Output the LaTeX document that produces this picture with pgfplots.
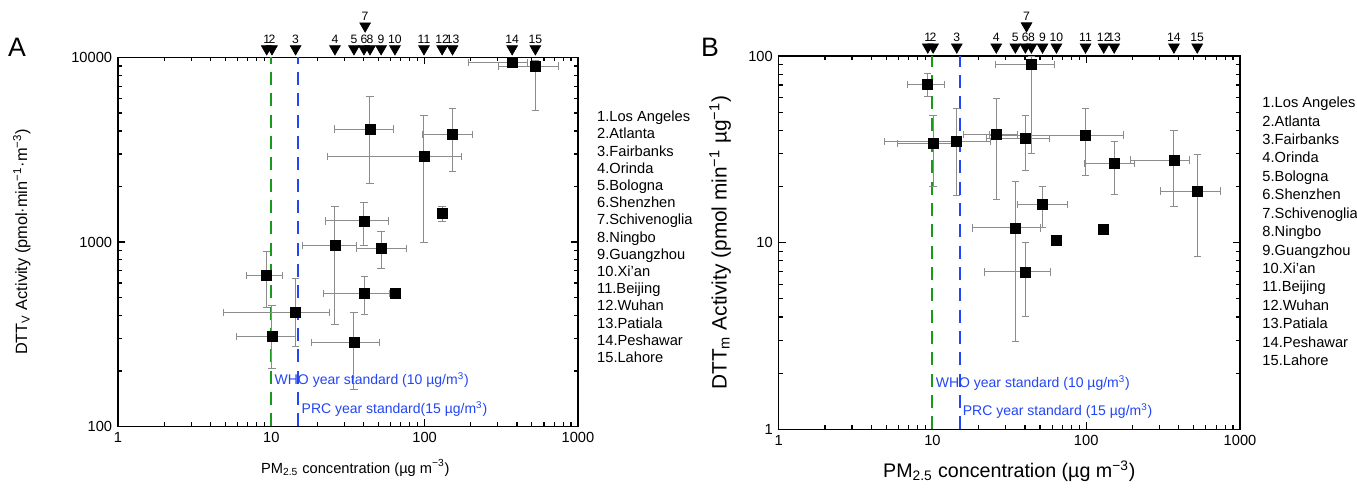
\documentclass[border=0pt]{standalone}
\usepackage{pgfplots}
\pgfplotsset{compat=1.18}
\usepackage{pgfplotstable}
\usepackage{fontspec}
\setmainfont{Liberation Sans}
\definecolor{whogreen}{HTML}{1A9A1A}
\definecolor{prcblue}{HTML}{2245F5}

% x, y, x error minus/plus, y error minus/plus
\pgfplotstableread{
x    y     xm    xp    ym    yp
9.33 656   2.49  2.57  215   227
10.1 307   4.15  4.3   100   148
14.4 416   9.49  9.5   144   219
26   955   10.1  10    597   612
34.6 286   16.4  16    127   130
40.2 1300  17.7  17.8  340   333
40.4 527   18.6  18.6  121   122
44   4090  18.2  18.5  2010  2050
52   925   16    23.6  209   213
64   527   0     0     0     0
99   2900  75.6  76    1905  1920
130  1430  8     8     140   120
152  3820  55    54    1420  1440
372  9420  178   98    400   450
527  8990  224   223   3860  600
}\dataA

\pgfplotstableread{
x    y     xm    xp    ym    yp
9.33 70.5  2.49  2.57  10    10.2
10.1 34.1  4.15  4.3   14    13.8
14.4 34.9  9.49  9.5   16.9  17.6
26   38    10.1  10    20.9  21.3
34.6 12    16.4  16    9.03  9.2
40.2 36.2  17.7  17.8  11.7  11.9
40.4 6.97  18.6  18.6  2.97  3.03
44   90.2  18.2  18.5  60.1  9.8
52   16    16    23.6  4     3.9
64   10.3  0     0     0     0
99   37.7  75.6  76    14.7  14.8
130  11.8  8     8     0.6   0.6
152  26.6  55    54    8.4   8.4
372  27.7  178   98    12.1  12.4
527  18.9  224   223   10.5  10.6
}\dataB

% city markers above the plot
\pgfplotstableread{
x    a      b     lab
9.33 11149  111.7 1
10.1 11149  111.7 2
14.4 11149  111.7 3
26   11149  111.7 4
34.6 11149  111.7 5
40.2 11149  111.7 6
40.9 14820  145   7
44   11149  111.7 8
52   11149  111.7 9
64   11149  111.7 10
99   11149  111.7 11
130  11149  111.7 12
152  11149  111.7 13
372  11149  111.7 14
527  11149  111.7 15
}\cities

\tikzset{stdtext/.style={anchor=west, inner sep=0pt, xshift=1.8pt, text=prcblue,
    font=\fontsize{8.4}{10}\selectfont}}

\begin{document}
\begin{tikzpicture}
\useasboundingbox (-70.8pt,-36.3pt) rectangle (743.4pt,255.9pt);

\begin{axis}[
  at={(0pt,0pt)}, anchor=south west,
  scale only axis, width=276pt, height=221.4pt,
  xmode=log, ymode=log, clip=false,
  xmin=1, xmax=1000, ymin=100, ymax=10000,
  xtick={1,10,100,1000}, xticklabels={1,10,100,1000},
  minor xtick={2,3,4,5,6,7,8,9,20,30,40,50,60,70,80,90,200,300,400,500,600,700,800,900},
  ytick={100,1000,10000}, yticklabels={100,1000,10000},
  minor ytick={200,300,400,500,600,700,800,900,2000,3000,4000,5000,6000,7000,8000,9000},
  tick align=inside, tick pos=both,
  major tick length=4.2pt, minor tick length=2.4pt,
  axis line style={line width=0.9pt},
  tick style={black, line width=0.7pt},
  tick label style={font=\fontsize{8.8}{10}\selectfont},
  xlabel={PM\textsubscript{2.5} concentration (µg m\textsuperscript{−3})},
  ylabel={DTT\textsubscript{V} Activity (pmol·min\textsuperscript{−1}·m\textsuperscript{−3})},
  xlabel style={font=\fontsize{8.8}{10}\selectfont, at={(axis description cs:0.516,0)}, anchor=center, yshift=-24.9pt},
  ylabel style={font=\fontsize{9.8}{11}\selectfont, at={(axis description cs:-0.209,0.5)}, anchor=center},
]
\addplot[whogreen, line width=1.2pt, dash pattern=on 7.8pt off 5pt] coordinates {(10,100) (10,10000)};
\addplot[prcblue, line width=1.2pt, dash pattern=on 7.8pt off 5pt] coordinates {(15,100) (15,10000)};
\addplot[only marks, mark=square*, mark size=3pt, black,
  error bars/.cd, x dir=both, x explicit, y dir=both, y explicit,
  error mark=-,
  error bar style={black!45, line width=0.6pt},
  error mark options={rotate=90, black!45, line width=0.6pt, mark size=2.2pt}]
  table[x=x, y=y, x error minus=xm, x error plus=xp, y error minus=ym, y error plus=yp] {\dataA};
\addplot[only marks, mark=triangle*, mark size=3.7pt, black, mark options={rotate=180},
  nodes near coords, point meta=explicit symbolic,
  every node near coord/.style={anchor=south, yshift=2.4pt, inner sep=0.5pt, font=\fontsize{7.3}{7.3}\selectfont}]
  table[x=x, y=a, meta=lab] {\cities};
\node[stdtext] at (axis cs:10,178.7) {WHO year standard (10 µg/m\textsuperscript{3})};
\node[stdtext] at (axis cs:15,124.5) {PRC year standard(15 µg/m\textsuperscript{3})};
\node[anchor=north west, align=left, inner sep=0pt, font=\fontsize{8.8}{10.33}\selectfont]
  at (rel axis cs:1.041,0.856)
  {1.Los Angeles\\2.Atlanta\\3.Fairbanks\\4.Orinda\\5.Bologna\\6.Shenzhen\\7.Schivenoglia\\8.Ningbo\\9.Guangzhou\\10.Xi'an\\11.Beijing\\12.Wuhan\\13.Patiala\\14.Peshawar\\15.Lahore};
\end{axis}

\begin{axis}[
  at={(396.4pt,-1.7pt)}, anchor=south west,
  scale only axis, width=276.8pt, height=224pt,
  xmode=log, ymode=log, clip=false,
  xmin=1, xmax=1000, ymin=1, ymax=100,
  xtick={1,10,100,1000}, xticklabels={1,10,100,1000},
  minor xtick={2,3,4,5,6,7,8,9,20,30,40,50,60,70,80,90,200,300,400,500,600,700,800,900},
  ytick={1,10,100}, yticklabels={1,10,100},
  minor ytick={2,3,4,5,6,7,8,9,20,30,40,50,60,70,80,90},
  tick align=inside, tick pos=both,
  major tick length=4.2pt, minor tick length=2.4pt,
  axis line style={line width=0.9pt},
  tick style={black, line width=0.7pt},
  tick label style={font=\fontsize{8.8}{10}\selectfont},
  xlabel={PM\textsubscript{2.5} concentration (µg m\textsuperscript{−3})},
  ylabel={DTT\textsubscript{m} Activity (pmol min\textsuperscript{−1} µg\textsuperscript{−1})},
  xlabel style={font=\fontsize{11.8}{13}\selectfont, at={(axis description cs:0.5,0)}, anchor=center, yshift=-25.2pt},
  ylabel style={font=\fontsize{12.5}{14}\selectfont, at={(axis description cs:-0.127,0.5)}, anchor=center},
]
\addplot[whogreen, line width=1.2pt, dash pattern=on 7.8pt off 5pt] coordinates {(10,1) (10,100)};
\addplot[prcblue, line width=1.2pt, dash pattern=on 7.8pt off 5pt] coordinates {(15,1) (15,100)};
\addplot[only marks, mark=square*, mark size=3pt, black,
  error bars/.cd, x dir=both, x explicit, y dir=both, y explicit,
  error mark=-,
  error bar style={black!45, line width=0.6pt},
  error mark options={rotate=90, black!45, line width=0.6pt, mark size=2.2pt}]
  table[x=x, y=y, x error minus=xm, x error plus=xp, y error minus=ym, y error plus=yp] {\dataB};
\addplot[only marks, mark=triangle*, mark size=3.7pt, black, mark options={rotate=180},
  nodes near coords, point meta=explicit symbolic,
  every node near coord/.style={anchor=south, yshift=2.4pt, inner sep=0.5pt, font=\fontsize{7.3}{7.3}\selectfont}]
  table[x=x, y=b, meta=lab] {\cities};
\node[stdtext] at (axis cs:10,1.77) {WHO year standard (10 µg/m\textsuperscript{3})};
\node[stdtext] at (axis cs:15,1.249) {PRC year standard (15 µg/m\textsuperscript{3})};
\node[anchor=north west, align=left, inner sep=0pt, font=\fontsize{8.8}{11.06}\selectfont]
  at (rel axis cs:1.048,0.891)
  {1.Los Angeles\\2.Atlanta\\3.Fairbanks\\4.Orinda\\5.Bologna\\6.Shenzhen\\7.Schivenoglia\\8.Ningbo\\9.Guangzhou\\10.Xi'an\\11.Beijing\\12.Wuhan\\13.Patiala\\14.Peshawar\\15.Lahore};
\end{axis}

\node[font=\fontsize{16}{18}\selectfont] at (-60.6pt,227.7pt) {A};
\node[font=\fontsize{16}{18}\selectfont] at (355.2pt,227.7pt) {B};
\end{tikzpicture}
\end{document}
